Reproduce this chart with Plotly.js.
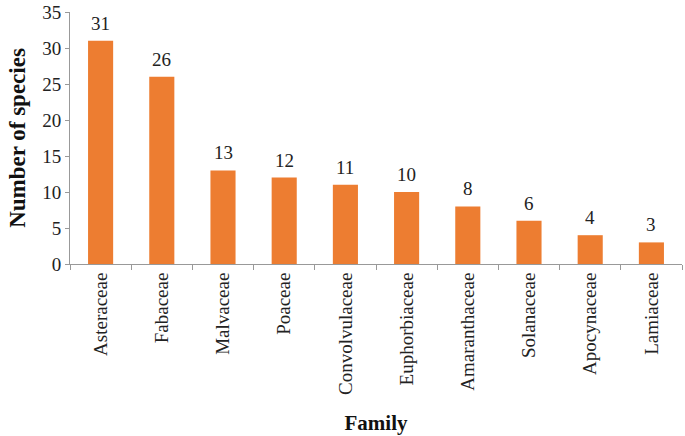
<!DOCTYPE html>
<html>
<head>
<meta charset="utf-8">
<script src="https://cdn.plot.ly/plotly-3.0.1.min.js"></script>
<style>
  html, body { margin: 0; padding: 0; background: #fff; }
  #chart { width: 685px; height: 436px; }
</style>
</head>
<body>
<div id="chart"></div>
<script>
// Families and species counts
var families = ["Asteraceae", "Fabaceae", "Malvaceae", "Poaceae", "Convolvulaceae",
  "Euphorbiaceae", "Amaranthaceae", "Solanaceae", "Apocynaceae", "Lamiaceae"];
var species = [31, 26, 13, 12, 11, 10, 8, 6, 4, 3];

var trace = {
  x: families,
  y: species,
  type: "bar",
  marker: {color: "#ED7D31"},
  hoverinfo: "x+y"
};

// value labels above the bars
var labels = families.map(function (f, i) {
  return {
    x: f, y: species[i], text: String(species[i]),
    xref: "x", yref: "y", yanchor: "bottom", yshift: 5,
    showarrow: false,
    font: {family: "Liberation Serif", size: 19, color: "#222"}
  };
});

var layout = {
  width: 685,
  height: 436,
  margin: {l: 70, r: 3, t: 12, b: 172},
  paper_bgcolor: "#fff",
  plot_bgcolor: "#fff",
  bargap: 0.59,
  showlegend: false,
  font: {family: "Liberation Serif", color: "#222"},
  annotations: labels,
  xaxis: {
    title: {text: "<b>Family</b>", font: {size: 21, color: "#111"}, standoff: 21},
    tickangle: -90,
    tickfont: {size: 19, color: "#222"},
    showline: true,
    linecolor: "#999",
    linewidth: 1,
    ticks: "outside",
    tickson: "boundaries",
    ticklen: 5,
    tickcolor: "#999",
    showgrid: false
  },
  yaxis: {
    title: {text: "<b>Number of species</b>", font: {size: 23, color: "#111"}, standoff: 10},
    range: [0, 35],
    dtick: 5,
    tickfont: {size: 19, color: "#222"},
    showline: true,
    linecolor: "#999",
    linewidth: 1,
    ticks: "outside",
    ticklen: 4,
    tickcolor: "#999",
    showgrid: false,
    zeroline: false
  }
};

Plotly.newPlot("chart", [trace], layout, {displayModeBar: false});
</script>
</body>
</html>
